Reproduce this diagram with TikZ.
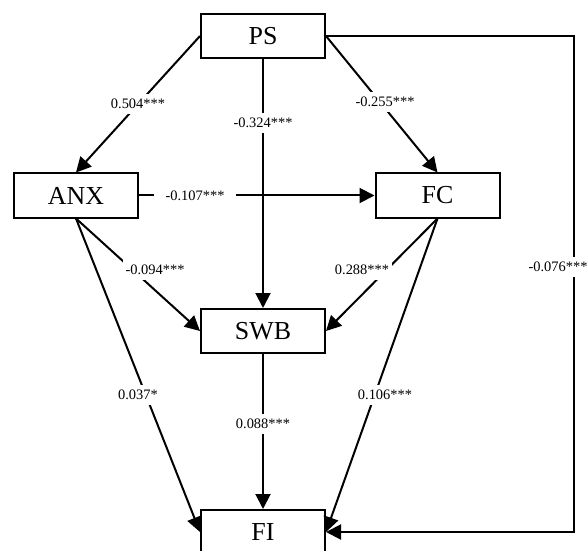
\documentclass[tikz,border=0pt]{standalone}
\usepackage{fontspec}
\setmainfont{Liberation Serif}
\usetikzlibrary{arrows.meta}
\begin{document}
\begin{tikzpicture}[x=1bp,y=-1bp,
  var/.style={draw,line width=2bp,minimum width=124bp,minimum height=44bp,inner sep=0pt,font=\fontsize{26}{30}\selectfont},
  conn/.style={line width=2bp,-{Triangle[length=15bp,width=15bp]}},
  lab/.style={fill=white,inner xsep=3bp,inner ysep=5bp,font=\fontsize{14.5}{16}\selectfont}]
\clip (0,0) rectangle (587,551);
\fill[white] (0,0) rectangle (587,551);
\node[var] (PS) at (263,36) {PS};
\node[var] (ANX) at (76,195.5) {ANX};
\node[var] (FC) at (437.5,195.5) {FC};
\node[var] (SWB) at (263,331) {SWB};
\node[var] (FI) at (263,532) {FI};
\coordinate (TR) at (574,36);
\coordinate (BR) at (574,532);
\draw[conn] (PS.west) -- (ANX.north);
\draw[conn] (PS.south) -- (SWB.north);
\draw[conn] (PS.east) -- (FC.north);
\draw[conn] (ANX.east) -- (FC.west);
\draw[conn] (ANX.south) -- (SWB.west);
\draw[conn] (ANX.south) -- (FI.west);
\draw[conn] (FC.south) -- (SWB.east);
\draw[conn] (FC.south) -- (FI.east);
\draw[conn] (SWB.south) -- (FI.north);
\draw[conn] (PS.east) -- (TR) -- (BR) -- (FI.east);
\node[lab] (l1) at (138,104) {0.504***};
\node[lab] (l2) at (263,123) {-0.324***};
\node[lab] (l3) at (385,102) {-0.255***};
\node[lab,inner xsep=12bp] (l4) at (195,195.5) {-0.107***};
\node[lab] (l5) at (155,270) {-0.094***};
\node[lab] (l6) at (362,270) {0.288***};
\node[lab] (l7) at (138,395) {0.037*};
\node[lab] (l8) at (385,395) {0.106***};
\node[lab] (l9) at (263,424) {0.088***};
\node[lab] (l10) at (558,267) {-0.076***};
\end{tikzpicture}
\end{document}
